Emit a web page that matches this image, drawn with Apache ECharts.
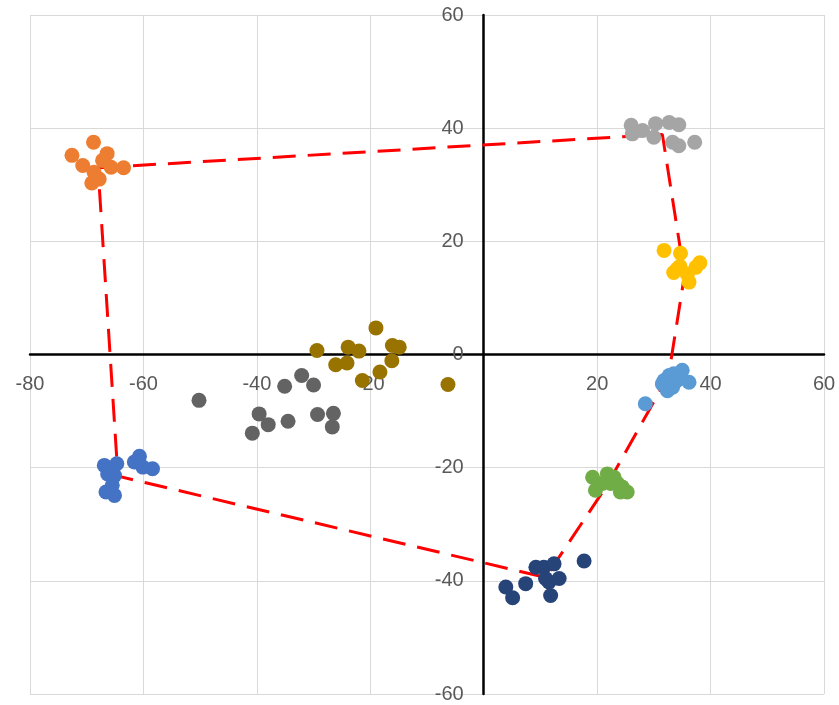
<!DOCTYPE html>
<html>
<head>
<meta charset="utf-8">
<script src="https://cdn.jsdelivr.net/npm/echarts@6/dist/echarts.min.js"></script>
<style>
  html, body { margin: 0; padding: 0; background: #fff; }
  #chart { width: 839px; height: 705px; }
</style>
</head>
<body>
<div id="chart"></div>
<script>
// cluster points, [x, y]
const orange = [[-68.8, 37.5], [-72.6, 35.2], [-70.7, 33.4], [-68.7, 32.2], [-69.1, 30.3],
  [-67.8, 31.0], [-66.4, 35.5], [-67.2, 34.3], [-65.7, 33.1], [-63.5, 33.0]]
const gray = [[26.0, 40.5], [26.2, 39.0], [28.0, 39.6], [30.3, 40.8], [30.0, 38.4],
  [32.7, 41.0], [34.4, 40.6], [33.3, 37.5], [34.4, 36.9], [37.2, 37.5]]
const yellow = [[31.8, 18.4], [34.7, 17.9], [34.1, 15.1], [33.5, 14.5], [35.9, 14.2],
  [38.1, 16.2], [37.4, 15.4], [36.2, 12.8], [34.6, 15.6]]
const gold = [[-29.4, 0.7], [-26.1, -1.8], [-24.1, -1.5], [-23.9, 1.3], [-22.0, 0.6],
  [-19.0, 4.7], [-16.1, 1.6], [-14.9, 1.3], [-16.2, -1.1], [-18.3, -3.1], [-21.4, -4.6], [-6.3, -5.3]]
const darkGray = [[-50.2, -8.1], [-39.6, -10.5], [-38.0, -12.4], [-40.8, -13.9], [-34.5, -11.8],
  [-35.1, -5.6], [-32.1, -3.7], [-30.0, -5.4], [-29.3, -10.6], [-26.5, -10.4], [-26.7, -12.8]]
const blueLeft = [[-66.9, -19.6], [-64.7, -19.3], [-66.3, -21.1], [-65.1, -21.4], [-66.6, -24.3],
  [-65.1, -24.9], [-65.5, -23.1], [-60.7, -18.0], [-61.6, -19.0], [-60.1, -19.9], [-58.4, -20.2]]
const lightBlue = [[28.5, -8.7], [36.2, -4.9], [35.0, -2.8], [31.8, -4.6], [32.7, -3.7],
  [33.5, -3.4], [31.5, -5.2], [32.4, -6.4], [33.3, -5.8], [34.1, -4.6]]
const green = [[19.2, -21.7], [19.7, -24.0], [21.8, -21.1], [23.0, -21.7], [20.9, -22.8],
  [23.6, -22.8], [24.4, -23.4], [25.3, -24.3], [24.1, -24.3], [22.4, -22.8]]
const navy = [[3.9, -41.1], [5.1, -43.0], [7.4, -40.5], [9.2, -37.6], [10.6, -37.6],
  [12.4, -37.0], [10.9, -39.6], [11.5, -40.2], [13.3, -39.6], [11.8, -42.6], [17.7, -36.5]]

// centroid path (closed)
const centroids = [[-68.0, 33.0], [31.5, 38.9], [35.4, 14.0], [32.6, -3.7], [21.5, -23.5],
  [10.9, -39.4], [-64.5, -21.5], [-68.0, 33.0]]

const groups = [
  { data: orange, color: '#ED7D31' },
  { data: gray, color: '#A5A5A5' },
  { data: yellow, color: '#FFC000' },
  { data: gold, color: '#997300' },
  { data: darkGray, color: '#636363' },
  { data: blueLeft, color: '#4472C4' },
  { data: lightBlue, color: '#5B9BD5' },
  { data: green, color: '#70AD47' },
  { data: navy, color: '#264478' },
]

const labelStyle = { color: '#595959', fontSize: 20, fontFamily: 'Liberation Sans' }
const gridLine = { show: true, lineStyle: { color: '#d9d9d9', width: 1 } }

const chart = echarts.init(document.getElementById('chart'), null, { renderer: 'canvas' })

chart.setOption({
  animation: false,
  backgroundColor: '#fff',
  grid: { left: 30, right: 15, top: 15, bottom: 11, containLabel: false, outerBoundsMode: 'none' },
  xAxis: {
    type: 'value', min: -80, max: 60, interval: 20,
    axisLine: { onZero: false, lineStyle: { color: '#000', width: 2.5 } },
    axisTick: { show: false },
    axisLabel: Object.assign({ margin: 20, formatter: v => (v === 0 ? '' : v) }, labelStyle),
    splitLine: gridLine,
  },
  yAxis: {
    type: 'value', min: -60, max: 60, interval: 20,
    axisLine: { onZero: false, lineStyle: { color: '#000', width: 2.5 } },
    axisTick: { show: false },
    axisLabel: Object.assign({ margin: 20 }, labelStyle),
    splitLine: gridLine,
  },
  series: [
    {
      type: 'line',
      data: centroids,
      symbol: 'none',
      z: 1,
      lineStyle: { color: '#FF0000', width: 3, type: [23, 12] },
    },
  ].concat(groups.map(g => ({
    type: 'scatter',
    data: g.data,
    symbolSize: 15,
    z: 2,
    itemStyle: { color: g.color, opacity: 1 },
  }))),
})

// move both axes (line + labels) to cross at the origin
const origin = chart.convertToPixel({ gridIndex: 0 }, [0, 0])
const corner = chart.convertToPixel({ gridIndex: 0 }, [-80, -60])
chart.setOption({
  xAxis: { offset: -(corner[1] - origin[1]) },
  yAxis: { offset: -(origin[0] - corner[0]) },
})
</script>
</body>
</html>
